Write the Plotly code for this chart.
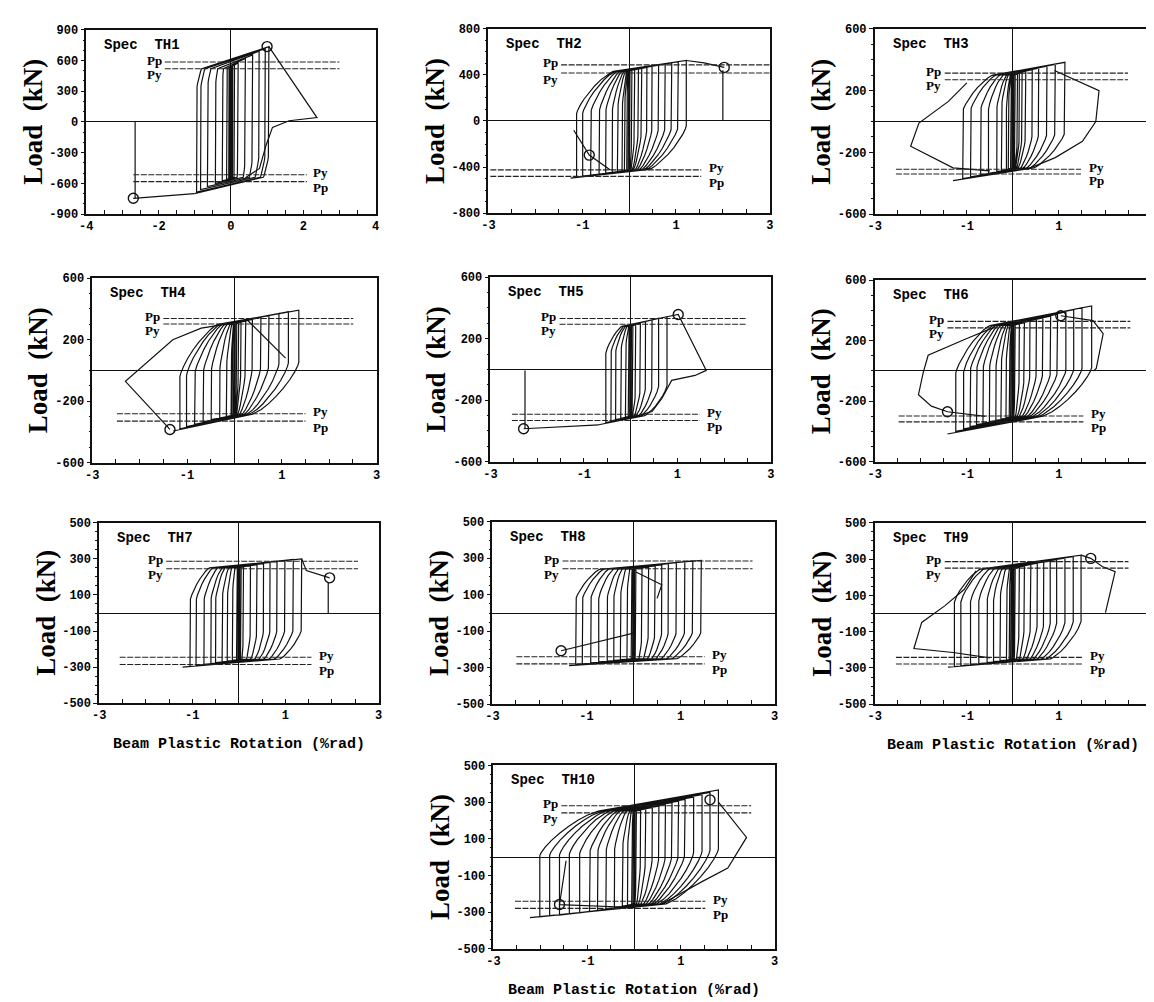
import numpy as np
import plotly.graph_objects as go

W, H = 1154, 1002

# ---------------- data ----------------
PANEL_NAMES = ["TH1", "TH2", "TH3", "TH4", "TH5", "TH6", "TH7", "TH8", "TH9", "TH10"]

# cycle peaks: positive rotation / load, negative rotation / load
TH1_XPOS = [0.02, 0.05, 0.1, 0.2, 0.4, 0.6, 0.78, 0.95, 1.05]
TH1_PPOS = [540, 550, 560, 575, 620, 655, 690, 715, 735]
TH1_XNEG = [-0.03, -0.06, -0.12, -0.24, -0.43, -0.65, -0.84, -0.95, -1.01]
TH1_PNEG = [-545, -550, -560, -575, -600, -630, -660, -685, -700]

TH2_XPOS = [0.02, 0.06, 0.12, 0.2, 0.27, 0.38, 0.49, 0.63, 0.77, 0.91, 1.05, 1.22]
TH2_PPOS = [440, 445, 450, 455, 460, 465, 475, 485, 495, 505, 515, 525]
TH2_XNEG = [-0.02, -0.05, -0.1, -0.15, -0.25, -0.36, -0.5, -0.64, -0.82, -0.99, -1.12, -1.25]
TH2_PNEG = [-425, -428, -432, -436, -440, -445, -452, -460, -470, -478, -486, -495]

TH3_XPOS = [0.02, 0.05, 0.1, 0.14, 0.2, 0.28, 0.42, 0.56, 0.74, 0.92, 1.13]
TH3_PPOS = [300, 303, 307, 312, 318, 325, 335, 345, 358, 370, 383]
TH3_XNEG = [-0.02, -0.05, -0.1, -0.14, -0.25, -0.35, -0.53, -0.7, -0.92, -1.09, -1.3]
TH3_PNEG = [-300, -303, -307, -312, -318, -325, -335, -345, -358, -370, -383]

TH4_XPOS = [0.02, 0.05, 0.09, 0.14, 0.24, 0.38, 0.56, 0.73, 0.94, 1.14, 1.36]
TH4_PPOS = [300, 305, 310, 315, 322, 332, 345, 358, 370, 382, 392]
TH4_XNEG = [-0.02, -0.05, -0.07, -0.17, -0.31, -0.49, -0.66, -0.84, -1.01, -1.15, -1.29]
TH4_PNEG = [-285, -290, -295, -300, -310, -320, -335, -350, -365, -380, -394]

TH5_XPOS = [0.02, 0.05, 0.11, 0.21, 0.32, 0.46, 0.6, 0.78]
TH5_PPOS = [280, 285, 290, 300, 312, 322, 333, 343]
TH5_XNEG = [-0.02, -0.05, -0.11, -0.21, -0.32, -0.42, -0.53, -0.68]
TH5_PNEG = [-300, -305, -310, -318, -326, -335, -345, -360]

TH6_XPOS = [0.02, 0.05, 0.14, 0.25, 0.37, 0.51, 0.65, 0.82, 0.97, 1.15, 1.32, 1.5, 1.71]
TH6_PPOS = [300, 305, 312, 320, 330, 340, 350, 362, 375, 390, 405, 418, 430]
TH6_XNEG = [-0.02, -0.05, -0.08, -0.15, -0.26, -0.37, -0.51, -0.65, -0.79, -0.93, -1.07, -1.24, -1.42]
TH6_PNEG = [-300, -303, -306, -310, -318, -326, -335, -345, -355, -368, -383, -400, -417]

TH7_XPOS = [0.02, 0.05, 0.1, 0.25, 0.39, 0.53, 0.67, 0.82, 0.99, 1.17, 1.35]
TH7_PPOS = [250, 253, 256, 262, 268, 274, 280, 286, 292, 297, 300]
TH7_XNEG = [-0.02, -0.05, -0.14, -0.25, -0.36, -0.5, -0.6, -0.75, -0.92, -1.05, -1.21]
TH7_PNEG = [-255, -258, -262, -266, -270, -275, -280, -285, -290, -295, -300]

TH8_XPOS = [0.02, 0.05, 0.18, 0.32, 0.46, 0.6, 0.74, 0.91, 1.09, 1.26, 1.44]
TH8_PPOS = [230, 235, 245, 252, 258, 264, 270, 276, 282, 286, 288]
TH8_XNEG = [-0.02, -0.05, -0.14, -0.28, -0.42, -0.56, -0.74, -0.91, -1.09, -1.23, -1.37]
TH8_PNEG = [-245, -248, -252, -256, -260, -264, -268, -273, -278, -283, -288]

TH9_XPOS = [0.02, 0.05, 0.14, 0.25, 0.39, 0.53, 0.67, 0.81, 0.95, 1.13, 1.31, 1.48]
TH9_PPOS = [240, 245, 255, 262, 270, 277, 284, 290, 297, 305, 314, 322]
TH9_XNEG = [-0.02, -0.05, -0.08, -0.14, -0.28, -0.42, -0.56, -0.74, -0.92, -1.13, -1.27, -1.41]
TH9_PNEG = [-245, -248, -251, -255, -260, -265, -270, -276, -282, -288, -292, -296]

TH10_XPOS = [0.02, 0.05, 0.14, 0.25, 0.39, 0.53, 0.67, 0.81, 0.95, 1.09, 1.27, 1.45, 1.62, 1.8]
TH10_PPOS = [240, 245, 255, 262, 270, 278, 287, 296, 305, 315, 327, 340, 352, 366]
TH10_XNEG = [-0.02, -0.05, -0.14, -0.25, -0.42, -0.6, -0.78, -0.95, -1.16, -1.38, -1.59, -1.8, -2.01, -2.22]
TH10_PNEG = [-250, -255, -262, -268, -275, -282, -290, -297, -304, -310, -316, -321, -326, -330]

# yield-level loads where the reloading branches join the envelopes
P0_POS = [520, 430, 300, 300, 280, 300, 250, 240, 245, 250]
P0_NEG = [-540, -420, -300, -285, -300, -300, -255, -250, -250, -255]

# failure / final excursion paths (None separates segments)
TH1_FAIL_X = [1.05, 2.38, 1.61, 1.15, 0.97, 0.79, 0.4, None, -1.01, -2.7, None, -2.65, -2.65]
TH1_FAIL_Y = [735, 43, 12, -53, -229, -454, -545, None, -700, -745, None, -745, 0]
TH2_FAIL_X = [1.22, 1.6, 2.03, None, 2.0, 2.0, None, -1.18, -0.85, -0.4]
TH2_FAIL_Y = [525, 505, 465, None, 440, 0, None, -80, -296, -425]
TH3_FAIL_X = [0.9, 1.87, 1.8, 1.51, 0.92, 0.3, None, -1.0, -1.4, -2.04, -2.22, -1.3, -0.5]
TH3_FAIL_Y = [330, 200, 0, -128, -234, -310, None, 250, 130, -10, -160, -300, -320]
TH4_FAIL_X = [0.0, -0.7, -1.3, -2.3, -1.36, None, 0.25, 1.08]
TH4_FAIL_Y = [310, 275, 200, -71, -384, None, 335, 80]
TH5_FAIL_X = [0.78, 1.02, 1.62, 1.38, 0.88, 0.67, 0.46, 0.1, None, -0.68, -2.29, None, -2.26, -2.26]
TH5_FAIL_Y = [343, 358, -6, -39, -71, -189, -274, -305, None, -360, -386, None, -386, -6]
TH6_FAIL_X = [1.04, 1.74, 1.96, 1.81, 1.75, None, -0.4, -1.0, -1.84, -1.95, -2.05, -1.77, -1.42, -0.6]
TH6_FAIL_Y = [365, 333, 246, 17, 0, None, 290, 215, 104, -15, -157, -233, -270, -300]
TH7_FAIL_X = [1.35, 1.45, 1.95, None, 1.92, 1.92]
TH7_FAIL_Y = [300, 235, 195, None, 170, 0]
TH8_FAIL_X = [-1.54, 0.0, None, 0.05, 0.6, 0.5]
TH8_FAIL_Y = [-207, -110, None, 225, 155, 80]
TH9_FAIL_X = [1.48, 1.69, 1.94, 2.22, 2.01, None, -0.8, -1.06, -1.48, -1.98, -2.15, -1.76, -1.3, -0.5]
TH9_FAIL_Y = [322, 304, 259, 231, 5, None, 235, 132, 42, -49, -193, -203, -215, -245]
TH10_FAIL_X = [1.8, 2.4, 2.0, 1.45, 0.6, None, -1.45, -1.59, 0.0]
TH10_FAIL_Y = [300, 107, -60, -134, -255, None, -20, -259, -275]

# circled points
TH1_CIRC_X, TH1_CIRC_Y = [1.0, -2.7], [736, -745]
TH2_CIRC_X, TH2_CIRC_Y = [2.03, -0.85], [465, -296]
TH3_CIRC_X, TH3_CIRC_Y = [], []
TH4_CIRC_X, TH4_CIRC_Y = [-1.36], [-384]
TH5_CIRC_X, TH5_CIRC_Y = [1.02, -2.29], [358, -386]
TH6_CIRC_X, TH6_CIRC_Y = [1.04, -1.42], [365, -270]
TH7_CIRC_X, TH7_CIRC_Y = [1.95], [195]
TH8_CIRC_X, TH8_CIRC_Y = [-1.54], [-207]
TH9_CIRC_X, TH9_CIRC_Y = [1.69], [304]
TH10_CIRC_X, TH10_CIRC_Y = [1.62, -1.59], [312, -259]

# reference loads Pp / Py
PP_POS = [585, 487, 313, 338, 332, 328, 287, 285, 286, 280]
PY_POS = [520, 416, 270, 302, 294, 285, 245, 243, 250, 241]
PY_NEG = [-515, -424, -309, -282, -291, -298, -245, -240, -242, -241]
PP_NEG = [-582, -481, -340, -330, -332, -337, -285, -279, -278, -280]
POS_LINE_X0 = [-1.83, -1.45, -1.48, -1.5, -1.52, -1.42, -1.56, -1.51, -1.48, -1.55]
POS_LINE_X1 = [3.0, 3.0, 2.5, 2.51, 2.47, 2.55, 2.56, 2.53, 2.51, 2.5]
NEG_LINE_X0 = [-2.7, -2.96, -2.54, -2.48, -2.54, -2.48, -2.56, -2.49, -2.54, -2.54]
NEG_LINE_X1 = [2.1, 1.54, 1.48, 1.5, 1.48, 1.53, 1.56, 1.51, 1.52, 1.52]

# axis scales
X_MAX = [4, 3, 3, 3, 3, 3, 3, 3, 3, 3]
X_TICKS = [[-4, -2, 0, 2, 4]] + [[-3, -1, 1, 3]] * 9
Y_MAX = [900, 800, 600, 600, 600, 600, 500, 500, 500, 500]
Y_TICKS = [[-900, -600, -300, 0, 300, 600, 900], [-800, -400, 0, 400, 800]] + \
          [[-600, -200, 200, 600]] * 4 + [[-500, -300, -100, 100, 300, 500]] * 4
Y_MINOR = [100, 100, 100, 100, 100, 100, 50, 50, 50, 50]

# ---------------- layout / style (pixel boxes of each panel) ----------------
BOX_X = [(72, 364), (478, 762), (868, 1147), (78, 365), (480, 763), (868, 1147),
         (85, 367), (482, 767), (868, 1147), (483, 767)]
BOX_Y = [(16, 203), (15, 202), (15, 203), (268, 455), (267, 454), (270, 454),
         (516, 699), (515, 700), (516, 700), (762, 948)]
# loop shape style: knee fraction / curve span for reloading (left) and unloading (right)
SHAPE = [(0.82, 0.15, 0.81, 0.15), (0.6, 0.7, 0.6, 0.65), (0.65, 0.6, 0.66, 0.6),
         (0.5, 0.7, 0.5, 0.72), (0.72, 0.65, 0.7, 0.62), (0.55, 0.6, 0.56, 0.62),
         (0.66, 0.4, 0.7, 0.35), (0.68, 0.42, 0.72, 0.36), (0.66, 0.45, 0.64, 0.45),
         (0.58, 0.62, 0.52, 0.62)]
CURVE_POWER = 1.55
X_TITLE_PANELS = [6, 8, 9]

T = np.linspace(0, np.pi / 2, 10)
CC, SS = np.cos(T) ** CURVE_POWER, np.sin(T) ** CURVE_POWER


def loop_path(xpos, ppos, xneg, pneg, p0, n0, kl, sl, kr, sr):
    xs, ys = [0.0, 0.0], [0.0, p0]
    prev = None
    for i in range(len(xpos)):
        xp, P = xpos[i], ppos[i]
        if prev is not None:
            xn, N = prev
            y1 = N + kl * (p0 - N)
            xc = xn * (1 - sl)
            for c, s in zip(CC, SS):
                xs.append(xc - (xc - xn) * c)
                ys.append(y1 + (p0 - y1) * s)
        xs.append(xp)
        ys.append(P)
        xn, N = xneg[i], pneg[i]
        y2 = P - kr * (P - n0)
        xc = xp * (1 - sr)
        for c, s in zip(CC, SS):
            xs.append(xc + (xp - xc) * c)
            ys.append(y2 + (n0 - y2) * s)
        xs.append(xn)
        ys.append(N)
        prev = (xn, N)
    return xs, ys


g = globals()
fig = go.Figure()
annotations = []
layout = dict(width=W, height=H, margin=dict(l=0, r=0, t=0, b=0), autosize=False,
              paper_bgcolor="white", plot_bgcolor="white", showlegend=False)

TICKFONT = dict(family="Liberation Mono", size=12, color="black", weight="bold")
LINE = dict(color="#111111", width=1.2)

for k, name in enumerate(PANEL_NAMES):
    n = k + 1
    xa = "x" if n == 1 else f"x{n}"
    ya = "y" if n == 1 else f"y{n}"
    xs, ys = loop_path(g[name + "_XPOS"], g[name + "_PPOS"], g[name + "_XNEG"], g[name + "_PNEG"],
                       P0_POS[k], P0_NEG[k], *SHAPE[k])
    fig.add_trace(go.Scatter(x=xs, y=ys, mode="lines", line=LINE, xaxis=xa, yaxis=ya,
                             hoverinfo="skip"))
    fig.add_trace(go.Scatter(x=g[name + "_FAIL_X"], y=g[name + "_FAIL_Y"], mode="lines",
                             line=LINE, xaxis=xa, yaxis=ya, hoverinfo="skip"))
    if g[name + "_CIRC_X"]:
        fig.add_trace(go.Scatter(x=g[name + "_CIRC_X"], y=g[name + "_CIRC_Y"], mode="markers",
                                 marker=dict(symbol="circle-open", size=10, color="#111111",
                                             line=dict(width=1.4)),
                                 xaxis=xa, yaxis=ya, hoverinfo="skip"))
    # Pp / Py reference lines
    for yv, x0, x1 in [(PP_POS[k], POS_LINE_X0[k], POS_LINE_X1[k]),
                       (PY_POS[k], POS_LINE_X0[k], POS_LINE_X1[k]),
                       (PY_NEG[k], NEG_LINE_X0[k], NEG_LINE_X1[k]),
                       (PP_NEG[k], NEG_LINE_X0[k], NEG_LINE_X1[k])]:
        fig.add_trace(go.Scatter(x=[x0, x1], y=[yv, yv], mode="lines",
                                 line=dict(color="#222222", width=1.1, dash="6px,1.5px"),
                                 xaxis=xa, yaxis=ya, hoverinfo="skip"))

    (px0, px1), (py0, py1) = BOX_X[k], BOX_Y[k]
    xdom = [px0 / W, px1 / W]
    ydom = [1 - py1 / H, 1 - py0 / H]
    xm = X_MAX[k]
    layout["xaxis" if n == 1 else f"xaxis{n}"] = dict(
        domain=xdom, anchor=ya, range=[-xm, xm], showgrid=False,
        zeroline=True, zerolinecolor="#111111", zerolinewidth=1.2,
        showline=True, linecolor="#111111", linewidth=1.5, mirror=True,
        tickmode="array", tickvals=X_TICKS[k], ticktext=[str(v) for v in X_TICKS[k]],
        ticks="inside", ticklen=4, tickcolor="#111111", tickfont=TICKFONT,
        minor=dict(dtick=0.5, tick0=0, ticks="inside", ticklen=4, tickcolor="#111111"),
        fixedrange=True)
    ym = Y_MAX[k]
    layout["yaxis" if n == 1 else f"yaxis{n}"] = dict(
        domain=ydom, anchor=xa, range=[-ym, ym], showgrid=False,
        zeroline=True, zerolinecolor="#111111", zerolinewidth=1.2,
        showline=True, linecolor="#111111", linewidth=1.5, mirror=True,
        tickmode="array", tickvals=Y_TICKS[k], ticktext=[str(v) for v in Y_TICKS[k]],
        ticks="outside", ticklen=4, tickcolor="#111111", tickfont=TICKFONT,
        minor=dict(dtick=Y_MINOR[k], tick0=0, ticks="outside", ticklen=2, tickcolor="#111111"),
        fixedrange=True)

    # panel title
    annotations.append(dict(text=f"Spec  {name}", xref="paper", yref="paper",
                            x=(px0 + 16) / W, y=1 - (py0 + 15) / H, xanchor="left",
                            yanchor="middle", showarrow=False,
                            font=dict(family="Liberation Mono", size=14, color="black",
                                      weight="bold")))
    # y title
    annotations.append(dict(text="Load  (kN)", xref="paper", yref="paper",
                            x=(px0 - 54) / W, y=1 - (py0 + py1) / 2 / H, textangle=-90,
                            xanchor="center", yanchor="middle", showarrow=False,
                            font=dict(family="Liberation Serif", size=27, color="black",
                                      weight="bold")))
    # Pp / Py labels
    lab_font = dict(family="Liberation Serif", size=13, color="black", weight="bold")
    annotations += [
        dict(text="Pp", xref=xa, yref=ya, x=POS_LINE_X0[k] - 0.03, y=PP_POS[k],
             xanchor="right", yanchor="middle", yshift=2, showarrow=False, font=lab_font),
        dict(text="Py", xref=xa, yref=ya, x=POS_LINE_X0[k] - 0.03, y=PY_POS[k],
             xanchor="right", yanchor="middle", yshift=-6, showarrow=False, font=lab_font),
        dict(text="Py", xref=xa, yref=ya, x=NEG_LINE_X1[k] + 0.12, y=PY_NEG[k],
             xanchor="left", yanchor="middle", yshift=2, showarrow=False, font=lab_font),
        dict(text="Pp", xref=xa, yref=ya, x=NEG_LINE_X1[k] + 0.12, y=PP_NEG[k],
             xanchor="left", yanchor="middle", yshift=-6, showarrow=False, font=lab_font),
    ]
    if k in X_TITLE_PANELS:
        annotations.append(dict(text="Beam Plastic Rotation (%rad)", xref="paper", yref="paper",
                                x=(px0 + px1) / 2 / W, y=1 - (py1 + 42) / H, xanchor="center",
                                yanchor="middle", showarrow=False,
                                font=dict(family="Liberation Mono", size=15, color="black",
                                          weight="bold")))

layout["annotations"] = annotations
fig.update_layout(**layout)
fig.write_html("out.html")
